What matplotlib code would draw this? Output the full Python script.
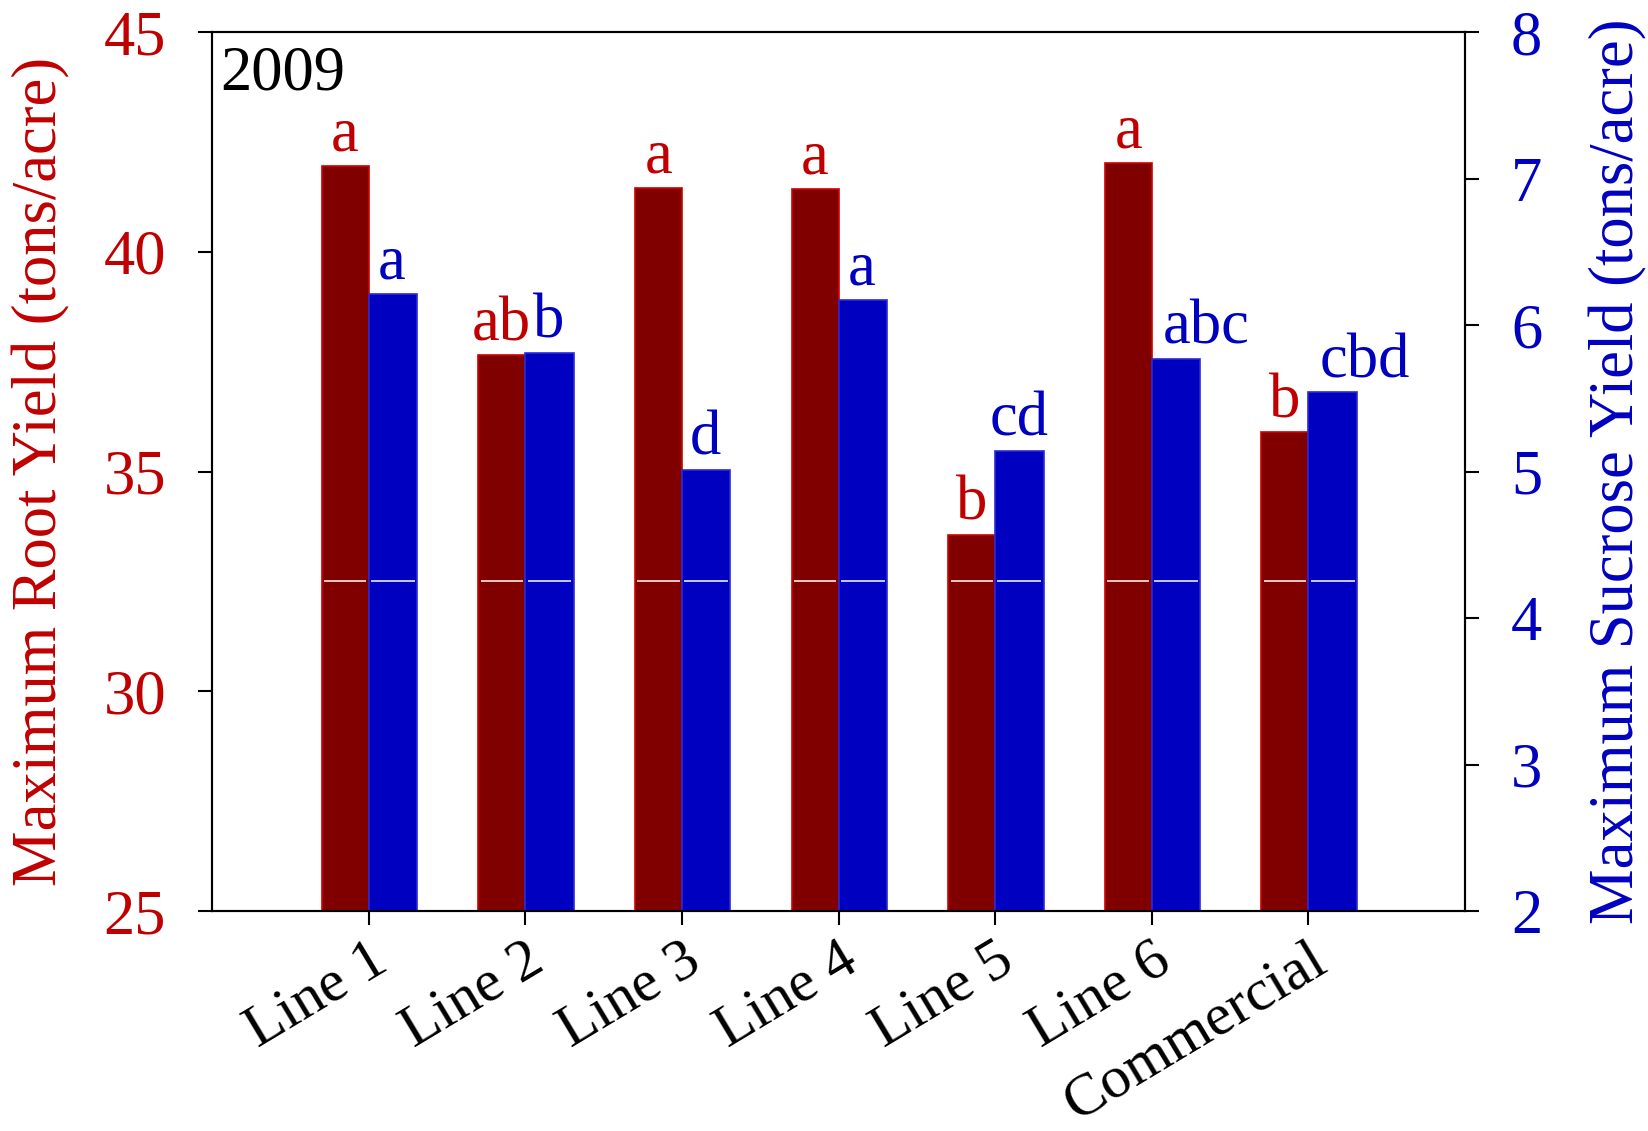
import matplotlib
matplotlib.use('Agg')
import matplotlib.pyplot as plt
import numpy as np

plt.rcParams['font.family'] = ['Liberation Serif', 'DejaVu Serif']
plt.rcParams['font.size'] = 45

# yields per line, 2009
lines = ['Line 1', 'Line 2', 'Line 3', 'Line 4', 'Line 5', 'Line 6', 'Commercial']
root_yield = [41.95, 37.64, 41.46, 41.43, 33.55, 42.03, 35.89]
sucrose_yield = [6.21, 5.81, 5.01, 6.17, 5.14, 5.77, 5.54]
root_letters = ['a', 'ab', 'a', 'a', 'b', 'a', 'b']
sucrose_letters = ['a', 'b', 'd', 'a', 'cd', 'abc', 'cbd']

red_txt = '#c00000'
blue_txt = '#0000c0'

fig = plt.figure(figsize=(16.48, 11.31), dpi=100)
ax1 = fig.add_axes([0.1286, 0.1945, 0.7604, 0.7772])
ax2 = ax1.twinx()

x = np.arange(1, len(lines) + 1)
w = 0.3

b1 = ax1.bar(x, root_yield, width=-w, align='edge', color='#800000',
             edgecolor='#d00000', linewidth=1.2, zorder=2)
b2 = ax2.bar(x, sucrose_yield, width=w + 0.01, align='edge', color='#0000c0',
             edgecolor='#2a2ad8', linewidth=1.2, zorder=2)

# thin white break line across every bar
gap = 0.015
yb = np.full(len(x), 0.375)
ax2.hlines(yb, x - w + gap, x - gap, colors='white', linewidth=1.1,
           transform=ax2.get_xaxis_transform(), zorder=3)
ax2.hlines(yb, x + gap, x + w + 0.01 - gap, colors='white', linewidth=1.1,
           transform=ax2.get_xaxis_transform(), zorder=3)

# significance letters
nudge = {5: 0.2, 6: 0.21}
for i in range(len(lines)):
    ax1.annotate(root_letters[i], (x[i] - w / 2, root_yield[i]),
                 xytext=(0, 11), textcoords='offset points',
                 ha='center', va='baseline', color=red_txt, fontsize=45)
    ax2.annotate(sucrose_letters[i], (x[i] + w / 2 + nudge.get(i, 0), sucrose_yield[i]),
                 xytext=(0, 11), textcoords='offset points',
                 ha='center', va='baseline', color=blue_txt, fontsize=45)

ax1.set_xlim(0, 8)
ax1.set_ylim(25, 45)
ax2.set_ylim(2, 8)
ax1.set_yticks(np.arange(25, 46, 5))
ax2.set_yticks(np.arange(2, 9, 1))
ax1.set_xticks(x)
ax1.set_xticklabels(lines, rotation=31, ha='right', va='top',
                    rotation_mode='anchor', fontsize=43)

for ax in (ax1, ax2):
    for s in ax.spines.values():
        s.set_linewidth(1.5)
ax1.tick_params(axis='x', direction='out', length=10, width=1.5, pad=6)
ax1.tick_params(axis='y', direction='out', length=10, width=1.5, pad=23,
                labelcolor=red_txt)
ax2.tick_params(axis='y', direction='out', length=10, width=1.5, pad=23,
                labelcolor=blue_txt)

ax1.set_ylabel('Maximum Root Yield (tons/acre)', color=red_txt, labelpad=24)
ax2.set_ylabel('Maximum Sucrose Yield (tons/acre)', color=blue_txt,
               labelpad=34, rotation=90)

ax1.text(0.0064, 0.935, '2009', transform=ax1.transAxes, ha='left',
         va='baseline', fontsize=45)

fig.savefig('out.png', dpi=100)
